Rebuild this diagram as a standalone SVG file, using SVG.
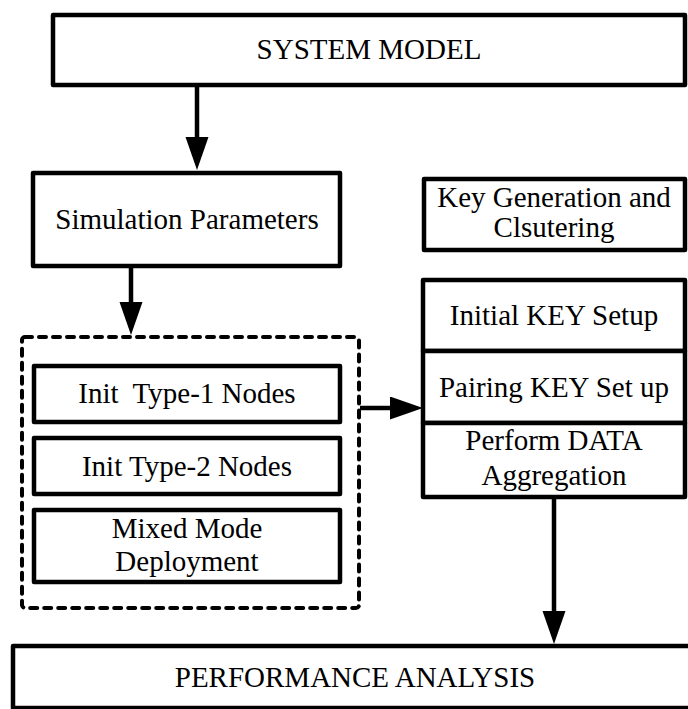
<svg xmlns="http://www.w3.org/2000/svg" width="688" height="709" viewBox="0 0 688 709">
<style>
  .box { fill: #fff; stroke: #000; stroke-width: 4.5; stroke-linejoin: round; }
  .dash { fill: none; stroke: #000; stroke-width: 4; stroke-dasharray: 7 7; stroke-linecap: round; }
  .lbl { font-family: "Liberation Serif", "Times New Roman", serif; font-size: 29px; fill: #000; text-anchor: middle; }
  .conn { stroke: #000; stroke-width: 4.5; fill: none; marker-end: url(#ah); }
</style>
<defs>
  <marker id="ah" markerUnits="userSpaceOnUse" markerWidth="34" markerHeight="24" refX="1" refY="11.5" orient="auto">
    <path d="M0,0 L33,11.5 L0,23 z" fill="#000"/>
  </marker>
</defs>
<rect width="688" height="709" fill="#fff"/>

<g id="system-model">
  <rect class="box" x="53" y="15" width="632" height="70"/>
  <text class="lbl" x="369" y="59">SYSTEM MODEL</text>
</g>

<g id="simulation-parameters">
  <rect class="box" x="33" y="173" width="307" height="93"/>
  <text class="lbl" x="187" y="229">Simulation Parameters</text>
</g>

<g id="key-generation">
  <rect class="box" x="424" y="179" width="261" height="71"/>
  <text class="lbl" x="554" y="207">Key Generation and</text>
  <text class="lbl" x="554" y="237">Clsutering</text>
</g>

<g id="deployment-group">
  <rect class="dash" x="22" y="337" width="337" height="271" rx="3"/>
</g>

<g id="init-type1">
  <rect class="box" x="34" y="366" width="306" height="56"/>
  <text class="lbl" x="187" y="403" xml:space="preserve">Init  Type-1 Nodes</text>
</g>

<g id="init-type2">
  <rect class="box" x="34" y="438" width="306" height="56"/>
  <text class="lbl" x="187" y="476">Init Type-2 Nodes</text>
</g>

<g id="mixed-mode">
  <rect class="box" x="34" y="510" width="306" height="72"/>
  <text class="lbl" x="187" y="538">Mixed Mode</text>
  <text class="lbl" x="187" y="571">Deployment</text>
</g>

<g id="initial-key-setup">
  <rect class="box" x="423" y="280" width="262" height="71"/>
  <text class="lbl" x="554" y="325">Initial KEY Setup</text>
</g>

<g id="pairing-key-setup">
  <rect class="box" x="423" y="351" width="262" height="72"/>
  <text class="lbl" x="554" y="397">Pairing KEY Set up</text>
</g>

<g id="data-aggregation">
  <rect class="box" x="423" y="423" width="262" height="74"/>
  <text class="lbl" x="554" y="450">Perform DATA</text>
  <text class="lbl" x="554" y="485">Aggregation</text>
</g>

<g id="performance-analysis">
  <rect class="box" x="13" y="646" width="690" height="62"/>
  <text class="lbl" x="355" y="687">PERFORMANCE ANALYSIS</text>
</g>

<g id="connectors">
  <line class="conn" x1="197" y1="87" x2="197" y2="138"/>
  <line class="conn" x1="131" y1="268" x2="131" y2="303"/>
  <line class="conn" x1="360" y1="408" x2="391" y2="408"/>
  <line class="conn" x1="554" y1="499" x2="554" y2="612"/>
</g>
</svg>
